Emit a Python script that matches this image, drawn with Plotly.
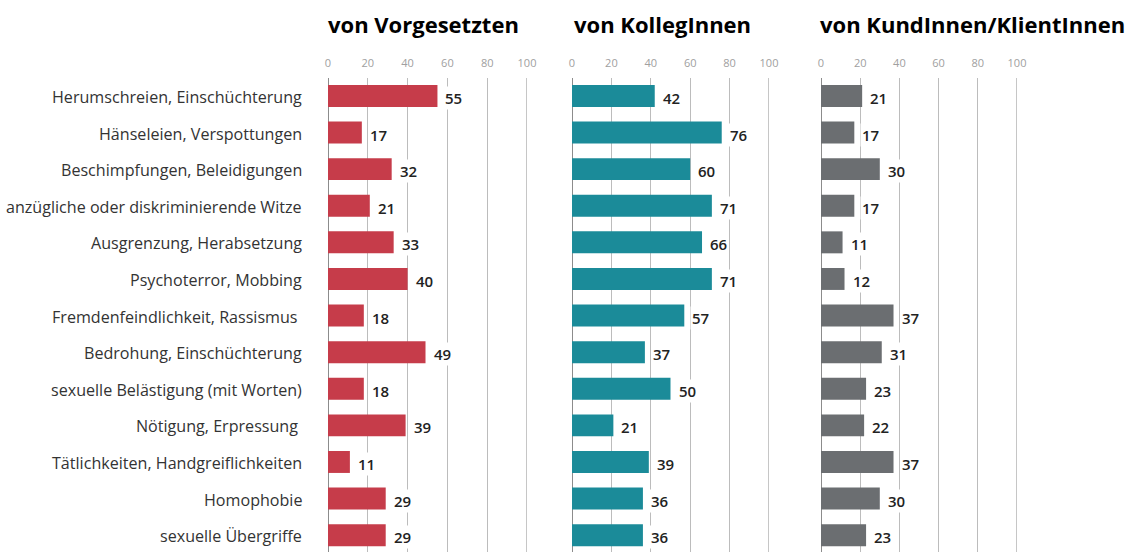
import plotly.graph_objects as go

categories = [
    "Herumschreien, Einschüchterung",
    "Hänseleien, Verspottungen",
    "Beschimpfungen, Beleidigungen",
    "anzügliche oder diskriminierende Witze",
    "Ausgrenzung, Herabsetzung",
    "Psychoterror, Mobbing",
    "Fremdenfeindlichkeit, Rassismus ",
    "Bedrohung, Einschüchterung",
    "sexuelle Belästigung (mit Worten)",
    "Nötigung, Erpressung ",
    "Tätlichkeiten, Handgreiflichkeiten",
    "Homophobie",
    "sexuelle Übergriffe",
]
vorgesetzte = [55, 17, 32, 21, 33, 40, 18, 49, 18, 39, 11, 29, 29]
kolleginnen = [42, 76, 60, 71, 66, 71, 57, 37, 50, 21, 39, 36, 36]
kundinnen = [21, 17, 30, 17, 11, 12, 37, 31, 23, 22, 37, 30, 23]
titles = ["von Vorgesetzten", "von KollegInnen", "von KundInnen/KlientInnen"]
tick_vals = [0, 20, 40, 60, 80, 100]
tick_text = ["0", "20", "40", "60", "80", "100"]

W, H = 1129, 552
series = [vorgesetzte, kolleginnen, kundinnen]
colors = ["#c63c4a", "#1b8b99", "#6b6e71"]
domains_px = [(328, 527), (572, 769), (821, 1017)]
title_x_px = [326, 572, 818]

rows = list(range(len(categories)))
fig = go.Figure()
annotations = []
shapes = []

for k, (vals, col, (x0, x1)) in enumerate(zip(series, colors, domains_px)):
    xa = "x" if k == 0 else f"x{k+1}"
    ya = "y" if k == 0 else f"y{k+1}"
    fig.add_trace(go.Bar(
        x=vals, y=rows, orientation="h", marker=dict(color=col, line=dict(width=0)),
        width=0.6, xaxis=xa, yaxis=ya, hoverinfo="x", showlegend=False,
    ))
    axkey = "xaxis" if k == 0 else f"xaxis{k+1}"
    aykey = "yaxis" if k == 0 else f"yaxis{k+1}"
    fig.update_layout(**{
        axkey: dict(
            domain=[x0 / W, x1 / W], range=[0, 100], side="top", anchor=ya,
            tickvals=tick_vals, ticktext=tick_text, showgrid=True,
            gridcolor="#bcbcbc", gridwidth=1, zeroline=True, zerolinecolor="#8c8c8c",
            zerolinewidth=1, showline=False, ticks="", ticklabelstandoff=8,
            tickfont=dict(family="Open Sans", size=11, color="#a0a0a0"),
            fixedrange=True, automargin=False,
        ),
        aykey: dict(
            domain=[0, 1], range=[12.46, -0.49], showticklabels=False,
            showgrid=False, zeroline=False, anchor=xa, fixedrange=True, automargin=False,
        ),
    })
    shapes.append(dict(type="line", xref=xa, yref="paper", x0=100, x1=100, y0=0, y1=1,
                       line=dict(color="#8c8c8c", width=1), layer="below"))
    for i, v in zip(rows, vals):
        annotations.append(dict(
            x=v, y=i, xref=xa, yref=ya, text=str(v), showarrow=False,
            xanchor="left", xshift=6, yshift=-2, bgcolor="white", borderpad=1,
            font=dict(family="Open Sans", size=15, color="#222222", weight=600),
        ))
    annotations.append(dict(
        x=title_x_px[k] / W, y=H - 24, xref="paper", yref="paper", text=f"<b>{titles[k]}</b>",
        showarrow=False, xanchor="left", yanchor="middle",
        font=dict(family="Open Sans", size=22, color="#000000"),
    ))

for i, c in zip(rows, categories):
    annotations.append(dict(
        x=304 / W, y=i, xref="paper", yref="y", text=c, showarrow=False,
        xanchor="right", yanchor="middle", yshift=-1,
        font=dict(family="Open Sans", size=16.1, color="#333333"),
    ))

top_margin = 78
plot_h = H - top_margin
for a in annotations:
    if a.get("yref") == "paper":
        px_from_top = H - a["y"]
        a["y"] = 1 + (top_margin - px_from_top) / plot_h

fig.update_layout(
    width=W, height=H,
    margin=dict(l=0, r=0, t=top_margin, b=0, pad=0, autoexpand=False),
    paper_bgcolor="white", plot_bgcolor="white",
    bargap=0.4, annotations=annotations, shapes=shapes,
)

fig.write_html("out.html", config={"displayModeBar": False},
               post_script="document.body.style.margin='0';document.documentElement.style.overflow='hidden';")
